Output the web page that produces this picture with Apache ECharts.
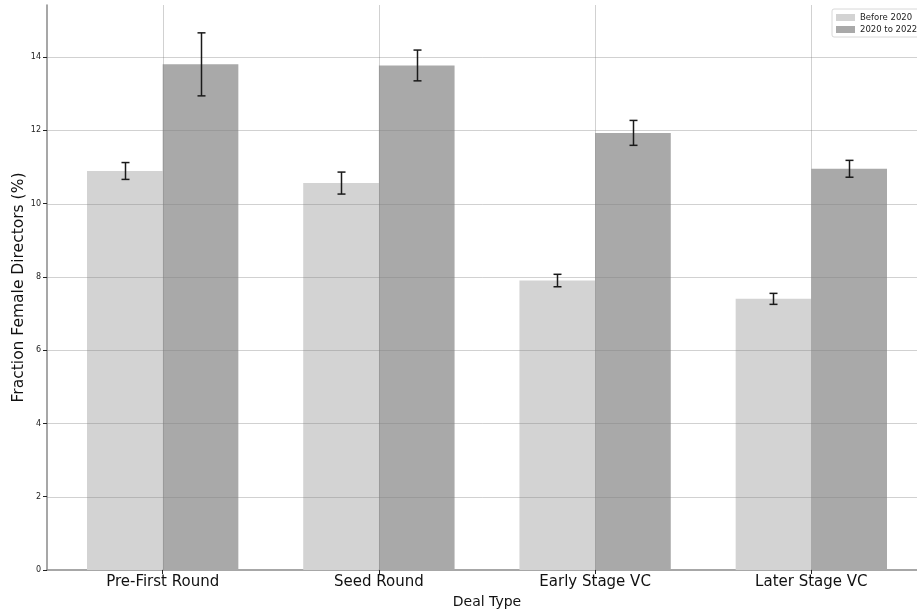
<!DOCTYPE html>
<html>
<head>
<meta charset="utf-8">
<script src="https://cdn.jsdelivr.net/npm/echarts@6/dist/echarts.min.js"></script>
<style>
html,body{margin:0;padding:0;background:#fff;}
#chart{width:917px;height:611px;}
</style>
</head>
<body>
<div id="chart"></div>
<script>
// Deal types and mean share of female directors with error margins
const categories = ['Pre-First Round', 'Seed Round', 'Early Stage VC', 'Later Stage VC'];
const seriesNames = ['Before 2020', '2020 to 2022'];
const before2020 = [10.89, 10.56, 7.90, 7.40];
const before2020Err = [0.23, 0.30, 0.17, 0.15];
const after2020 = [13.80, 13.77, 11.93, 10.95];
const after2020Err = [0.86, 0.42, 0.34, 0.23];
const yTicks = [0, 2, 4, 6, 8, 10, 12, 14];

const FONT = 'DejaVu Sans';
const BAR_W = 0.35;
const Y_MAX = 15.42;
const X_MIN = -0.535, X_MAX = 3.535;
const colors = ['#d3d3d3', '#a9a9a9'];
const gridColor = 'rgba(128,128,128,0.36)';

function barData(vals, errs) {
  return vals.map((v, i) => [i, v, errs[i]]);
}

function makeBarSeries(name, vals, errs, offset, color) {
  return {
    name: name,
    type: 'custom',
    z: 2,
    itemStyle: { color: color },
    data: barData(vals, errs),
    renderItem: function (params, api) {
      const x = api.value(0) + offset;
      const p0 = api.coord([x, api.value(1)]);
      const p1 = api.coord([x + BAR_W, 0]);
      return {
        type: 'rect',
        shape: { x: p0[0], y: p0[1], width: p1[0] - p0[0], height: p1[1] - p0[1] },
        style: { fill: color }
      };
    }
  };
}

function makeErrSeries(vals, errs, offset) {
  return {
    type: 'custom',
    z: 20,
    silent: true,
    data: barData(vals, errs),
    renderItem: function (params, api) {
      const x = api.value(0) + offset + BAR_W / 2;
      const v = api.value(1), e = api.value(2);
      const top = api.coord([x, v + e]);
      const bot = api.coord([x, v - e]);
      const cx = Math.round(top[0]) + 0.5;
      const st = { stroke: '#1a1a1a', lineWidth: 1.5 };
      return {
        type: 'group',
        children: [
          { type: 'line', shape: { x1: cx, y1: top[1], x2: cx, y2: bot[1] }, style: st },
          { type: 'line', shape: { x1: cx - 4, y1: top[1], x2: cx + 4, y2: top[1] }, style: st },
          { type: 'line', shape: { x1: cx - 4, y1: bot[1], x2: cx + 4, y2: bot[1] }, style: st }
        ]
      };
    }
  };
}

// vertical grid lines at each deal type
const vGridSeries = {
  type: 'custom',
  z: 10,
  silent: true,
  data: categories.map((c, i) => [i]),
  renderItem: function (params, api) {
    const a = api.coord([api.value(0), 0]);
    const b = api.coord([api.value(0), Y_MAX]);
    const x = Math.round(a[0]) + 0.5;
    return {
      type: 'line',
      shape: { x1: x, y1: a[1], x2: x, y2: b[1] },
      style: { stroke: gridColor, lineWidth: 1 }
    };
  }
};

// horizontal grid lines at the y ticks
const hGridSeries = {
  type: 'custom',
  z: 10,
  silent: true,
  data: yTicks.filter(t => t > 0).map(t => [t]),
  renderItem: function (params, api) {
    const a = api.coord([X_MIN, api.value(0)]);
    const b = api.coord([X_MAX, api.value(0)]);
    const y = Math.round(a[1]) + 0.5;
    return {
      type: 'line',
      shape: { x1: a[0], y1: y, x2: b[0], y2: y },
      style: { stroke: gridColor, lineWidth: 1 }
    };
  }
};

const chart = echarts.init(document.getElementById('chart'), null, { renderer: 'canvas' });
chart.setOption({
  animation: false,
  backgroundColor: '#fff',
  textStyle: { fontFamily: FONT },
  grid: { left: 47, top: 5, width: 880, height: 565, containLabel: false, outerBoundsMode: 'none' },
  legend: {
    left: 832, top: 9,
    orient: 'vertical',
    itemWidth: 19, itemHeight: 7, itemGap: 3,
    padding: [4, 4, 3, 4],
    borderColor: '#d8d8d8', borderWidth: 1, borderRadius: 2,
    backgroundColor: '#fff',
    textStyle: { fontSize: 8.5, color: '#222', fontFamily: FONT },
    data: seriesNames.map((n, i) => ({ name: n, icon: 'rect', itemStyle: { color: colors[i] } }))
  },
  xAxis: {
    type: 'value',
    min: X_MIN, max: X_MAX,
    name: 'Deal Type',
    nameLocation: 'middle',
    nameGap: 25,
    nameMoveOverlap: false,
    nameTextStyle: { fontSize: 14, color: '#111', fontFamily: FONT },
    axisLine: { show: true, onZero: false, lineStyle: { color: '#8a8a8a', width: 1.5 } },
    axisTick: { show: true, customValues: [0, 1, 2, 3], length: 4, lineStyle: { color: '#222' } },
    axisLabel: {
      customValues: [0, 1, 2, 3],
      formatter: v => categories[Math.round(v)],
      fontSize: 15, color: '#111', margin: 5, fontFamily: FONT
    },
    splitLine: { show: false }
  },
  yAxis: {
    type: 'value',
    min: 0, max: Y_MAX,
    name: 'Fraction Female Directors (%)',
    nameLocation: 'middle',
    nameGap: 20,
    nameMoveOverlap: false,
    nameTextStyle: { fontSize: 15.5, color: '#111', fontFamily: FONT },
    axisLine: { show: true, onZero: false, lineStyle: { color: '#8a8a8a', width: 1.5 } },
    axisTick: { show: true, customValues: yTicks, length: 4, lineStyle: { color: '#222' } },
    axisLabel: { customValues: yTicks, fontSize: 8, color: '#222', margin: 6, fontFamily: FONT },
    splitLine: { show: false }
  },
  series: [
    makeBarSeries(seriesNames[0], before2020, before2020Err, -BAR_W, colors[0]),
    makeBarSeries(seriesNames[1], after2020, after2020Err, 0, colors[1]),
    vGridSeries,
    hGridSeries,
    makeErrSeries(before2020, before2020Err, -BAR_W),
    makeErrSeries(after2020, after2020Err, 0)
  ]
});
</script>
</body>
</html>
